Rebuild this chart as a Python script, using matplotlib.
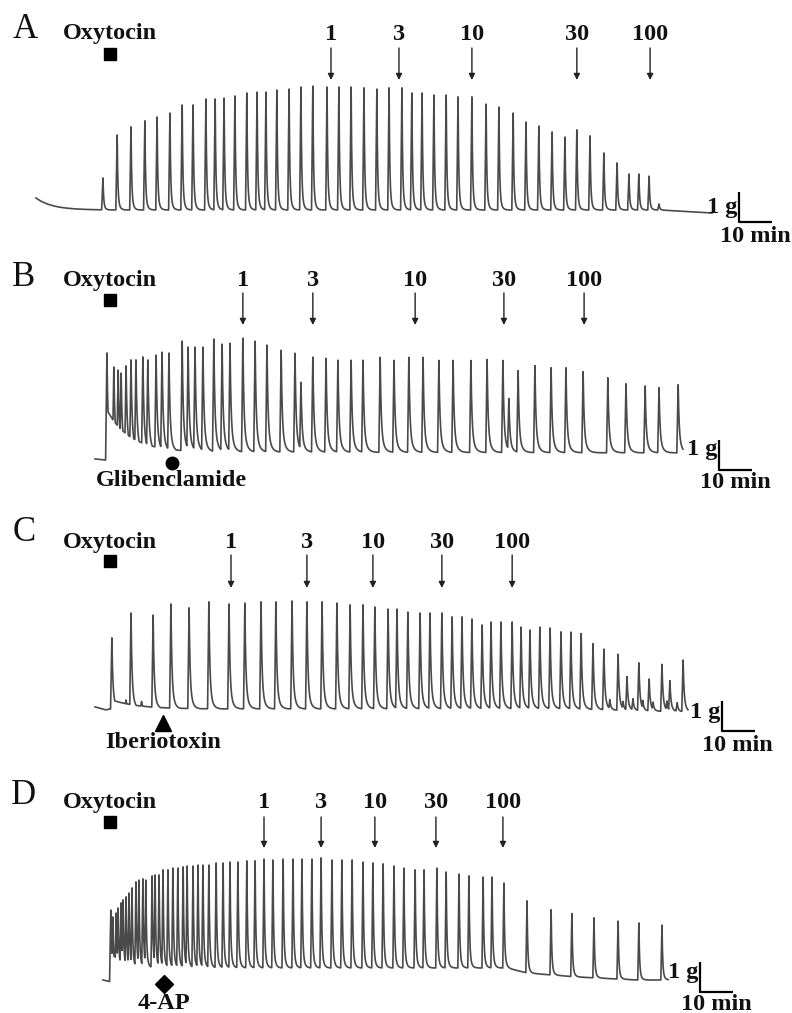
import numpy as np
import matplotlib
matplotlib.use('Agg')
import matplotlib.pyplot as plt

plt.rcParams['font.family'] = ['Liberation Serif', 'DejaVu Serif']

# ---- values: time in min, force in g above resting tone ----
doses = ['1', '3', '10', '30', '100']

# A: oxytocin alone, then cumulative doses
A_peak_t = [31.2, 35.5, 39.7, 43.9, 47.6, 51.5, 55.2, 58.5, 62.4, 65.2, 67.9, 71.2, 74.8, 77.9,
            80.6, 83.9, 87.6, 91.2, 94.8, 99.1, 102.7, 106.4, 110.3, 114.2, 117.9, 121.8, 124.8,
            127.9, 131.5, 135.2, 138.8, 143.0, 147.3, 151.2, 155.5, 159.4, 163.3, 167.3, 171.2,
            174.8, 178.8, 183.0, 187.0, 190.6, 193.6, 196.7, 199.7]
A_peak_g = [1.07, 2.5, 2.77, 2.97, 3.1, 3.23, 3.5, 3.5, 3.7, 3.7, 3.73, 3.8, 3.9, 3.93,
            3.93, 4.0, 4.03, 4.1, 4.13, 4.1, 4.1, 4.1, 4.07, 4.03, 4.07, 4.07, 3.9,
            3.9, 3.83, 3.83, 3.77, 3.77, 3.53, 3.43, 3.23, 2.93, 2.8, 2.6, 2.43,
            2.67, 2.47, 1.9, 1.57, 1.2, 1.2, 1.13, 0.2]
A_dose_t = [100.3, 120.9, 143.0, 174.8, 197.0]
A_rest_t = [10.9, 200.0, 215.8]
A_rest_g = [0.0, 0.0, -0.1]
A_tone = (10.9, 0.4, 5.0)          # start, amplitude, decay (min)

# B: + glibenclamide
B_peak_t = [32.4, 34.5, 35.8, 36.7, 38.2, 39.7, 41.2, 43.3, 44.8, 47.3, 49.1, 51.2, 55.2, 57.0,
            59.1, 61.5, 64.8, 67.3, 69.7, 73.6, 77.3, 80.9, 85.2, 89.4, 91.2, 94.8, 98.8, 102.4,
            106.4, 110.0, 115.2, 119.4, 123.9, 128.2, 133.0, 137.3, 142.7, 147.6, 152.4, 154.2,
            157.0, 162.1, 167.0, 171.5, 176.7, 184.2, 189.7, 195.5, 199.7, 205.5]
B_peak_g = [3.3, 2.83, 2.73, 2.63, 2.87, 3.07, 3.07, 3.17, 3.07, 3.23, 3.33, 3.3, 3.7, 3.5,
            3.5, 3.5, 3.77, 3.6, 3.63, 3.8, 3.7, 3.57, 3.4, 3.3, 2.33, 3.17, 3.13, 3.07,
            3.07, 3.07, 3.17, 3.07, 3.17, 3.17, 3.07, 3.07, 3.07, 3.1, 3.07, 1.8,
            2.73, 2.9, 2.83, 2.83, 2.7, 2.5, 2.3, 2.23, 2.17, 2.27]
B_dose_t = [73.6, 94.8, 125.8, 152.7, 177.0]
B_rest_t = [28.8, 32.1, 32.2, 207.0]
B_rest_g = [-0.23, -0.27, 0.0, -0.03]
B_tone = (32.4, 1.4, 7.0)
B_block_t = 52.1

# C: + iberiotoxin
C_peak_t = [33.9, 38.2, 39.7, 42.9, 46.4, 51.8, 57.3, 63.3, 69.4, 74.2, 79.1, 83.6, 88.5, 93.0,
            97.6, 102.1, 106.1, 110.0, 113.6, 117.6, 120.3, 123.6, 127.3, 130.3, 133.9, 137.0,
            140.0, 143.0, 146.1, 148.8, 151.8, 155.2, 157.9, 160.6, 163.6, 166.7, 170.0, 173.0,
            176.1, 179.7, 183.0, 184.8, 187.3, 188.8, 190.0, 191.8, 193.6, 194.8, 196.7, 197.9,
            200.6, 202.1, 203.0, 205.2, 207.0]
C_peak_g = [2.37, 0.3, 3.2, 0.25, 3.13, 3.5, 3.37, 3.57, 3.5, 3.53, 3.57, 3.57, 3.6, 3.57,
            3.57, 3.53, 3.47, 3.47, 3.4, 3.33, 3.33, 3.23, 3.2, 3.2, 3.2, 3.07,
            3.07, 3.0, 2.8, 2.9, 2.9, 2.9, 2.73, 2.63, 2.73, 2.7, 2.57, 2.57,
            2.53, 2.2, 2.03, 0.35, 1.87, 0.3, 1.13, 0.4, 1.6, 0.35, 1.07, 0.3,
            1.57, 0.35, 1.03, 0.3, 1.73]
C_dose_t = [70.0, 93.0, 113.0, 133.9, 155.2]
C_rest_t = [28.8, 32.0, 33.3, 170.0, 208.5]
C_rest_g = [0.07, -0.03, 0.0, 0.0, -0.1]
C_tone = (33.9, 0.3, 8.0)
C_block_t = 49.4

# D: + 4-AP
D_peak_t = [33.6, 34.2, 35.2, 35.8, 36.7, 37.3, 38.2, 39.1, 40.0, 41.2, 42.1, 43.3, 44.2, 46.1,
            47.0, 48.2, 49.4, 50.9, 52.4, 53.9, 55.5, 56.7, 58.5, 60.0, 61.5, 63.3, 65.5, 67.6,
            69.7, 72.1, 74.8, 77.3, 80.0, 82.7, 85.8, 88.8, 91.5, 94.5, 97.3, 100.6, 103.6,
            106.7, 110.0, 113.0, 116.1, 119.4, 122.4, 125.8, 128.5, 132.4, 135.2, 139.1, 142.1,
            146.4, 149.1, 152.7, 159.7, 167.0, 173.3, 180.0, 187.3, 193.6, 200.6]
D_peak_g = [1.93, 1.7, 1.83, 2.0, 2.17, 2.27, 2.37, 2.5, 2.67, 2.87, 2.93, 2.97, 2.93, 3.07,
            3.1, 3.1, 3.27, 3.27, 3.33, 3.33, 3.37, 3.4, 3.4, 3.43, 3.43, 3.43, 3.5, 3.5,
            3.53, 3.53, 3.57, 3.57, 3.63, 3.6, 3.63, 3.63, 3.63, 3.63, 3.67, 3.6, 3.6,
            3.6, 3.53, 3.5, 3.47, 3.4, 3.33, 3.27, 3.27, 3.33, 3.2, 3.13, 3.07,
            3.03, 3.03, 2.83, 2.4, 2.17, 2.1, 2.0, 1.93, 1.9, 1.83]
D_dose_t = [80.0, 97.3, 113.6, 132.1, 152.4]
D_rest_t = [31.2, 33.2, 33.3, 153.5, 160.0, 175.0, 193.0, 202.5]
D_rest_g = [-0.4, -0.45, 0.0, 0.0, -0.17, -0.3, -0.4, -0.4]
D_tone = (33.3, 0.5, 5.0)
D_block_t = 49.7

oxytocin_t = 33.3

# ---- figure geometry (pixels) ----
W, H = 792, 1013
PX_MIN = 3.3   # px per minute
PX_G = 30.0    # px per gram
INK = '#4a4a4a'
bold = dict(fontweight='bold', fontsize=17.5, color='#111')


def trace(t, peak_t, peak_g, rest_t, rest_g, tone, shape):
    rise, tau1, tau2, w = shape
    t0, a0, k0 = tone
    env = np.where(t >= t0, a0 * np.exp(-np.clip(t - t0, 0, None) / k0), 0.0)
    for tp, a in zip(peak_t, peak_g):
        dt = t - tp
        up = a * np.clip(1 + dt / rise, 0, 1)
        d = np.clip(dt, 0, None)
        down = a * (w * np.exp(-d / tau1) + (1 - w) * np.exp(-d / tau2))
        env = np.maximum(env, np.where(dt < 0, up, down))
    return np.interp(t, rest_t, rest_g) + env


panels = [
    dict(name='A', y0=0, y1=250, base=210, span=(10.9, 215.8), pt=A_peak_t, pg=A_peak_g,
         rt=A_rest_t, rg=A_rest_g, tone=A_tone, shape=(0.4, 0.2, 0.55, 0.8), dose=A_dose_t,
         letter=(25, 30), row=34, sq=54, arr=(48, 80), bar=(739, 222), oneg=207, tenmin=(755, 237),
         block=None),
    dict(name='B', y0=250, y1=510, base=452, span=(28.8, 207.0), pt=B_peak_t, pg=B_peak_g,
         rt=B_rest_t, rg=B_rest_g, tone=B_tone, shape=(0.4, 0.3, 0.9, 0.75), dose=B_dose_t,
         letter=(24, 277), row=280, sq=300, arr=(293, 325), bar=(719, 470), oneg=449, tenmin=(735, 482),
         block=(B_block_t, 'o', 9, 463, 'Glibenclamide', 480)),
    dict(name='C', y0=510, y1=760, base=709, span=(28.8, 208.5), pt=C_peak_t, pg=C_peak_g,
         rt=C_rest_t, rg=C_rest_g, tone=C_tone, shape=(0.4, 0.28, 0.8, 0.75), dose=C_dose_t,
         letter=(24, 532), row=542, sq=561, arr=(555, 588), bar=(722, 731), oneg=712, tenmin=(737, 745),
         block=(C_block_t, '^', 11, 723, 'Iberiotoxin', 742)),
    dict(name='D', y0=760, y1=1013, base=968, span=(31.2, 202.5), pt=D_peak_t, pg=D_peak_g,
         rt=D_rest_t, rg=D_rest_g, tone=D_tone, shape=(0.35, 0.2, 0.55, 0.8), dose=D_dose_t,
         letter=(24, 795), row=802, sq=822, arr=(817, 848), bar=(700, 992), oneg=972, tenmin=(716, 1004),
         block=(D_block_t, 'D', 9, 984, '4-AP', 1003)),
]

fig = plt.figure(figsize=(W / 100, H / 100), dpi=100)

for p in panels:
    ax = fig.add_axes([0, 1 - p['y1'] / H, 1, (p['y1'] - p['y0']) / H])
    base = p['base']
    ax.set_xlim(0, W / PX_MIN)
    ax.set_ylim((base - p['y1']) / PX_G, (base - p['y0']) / PX_G)
    ax.axis('off')
    gy = lambda ypx: (base - ypx) / PX_G
    tx = lambda xpx: xpx / PX_MIN

    t = np.arange(p['span'][0], p['span'][1], 0.02)
    y = trace(t, p['pt'], p['pg'], p['rt'], p['rg'], p['tone'], p['shape'])
    ax.plot(t, y, color=INK, lw=1.2, solid_joinstyle='round')

    # panel letter and oxytocin marker
    ax.text(tx(p['letter'][0]), gy(p['letter'][1]), p['name'], fontsize=25,
            ha='center', va='center', color='#111')
    ax.text(oxytocin_t, gy(p['row']), 'Oxytocin', ha='center', va='center', **bold)
    ax.plot([oxytocin_t], [gy(p['sq'])], 's', color='black', ms=9)

    # cumulative dose arrows
    for td, lab in zip(p['dose'], doses):
        ax.annotate('', xy=(td, gy(p['arr'][1])), xytext=(td, gy(p['arr'][0])),
                    arrowprops=dict(arrowstyle='-|>', lw=1.0, color='#222', mutation_scale=9,
                                    shrinkA=0, shrinkB=0))
        ax.text(td, gy(p['row']), lab, ha='center', va='center', **bold)

    # blocker marker
    if p['block'] is not None:
        tb, mk, ms, my, lab, ly = p['block']
        ax.plot([tb], [gy(my)], mk, color='black', ms=ms)
        ax.text(tb, gy(ly), lab, ha='center', va='center', **bold)

    # scale bars: 1 g and 10 min
    bx, by = tx(p['bar'][0]), gy(p['bar'][1])
    ax.plot([bx, bx, bx + 10], [by + 1, by, by], color='black', lw=1.6, solid_capstyle='butt')
    ax.text(bx - tx(2), gy(p['oneg']), '1 g', ha='right', va='center', **bold)
    ax.text(tx(p['tenmin'][0]), gy(p['tenmin'][1]), '10 min', ha='center', va='center', **bold)

fig.savefig('out.png', dpi=100, facecolor='white')
